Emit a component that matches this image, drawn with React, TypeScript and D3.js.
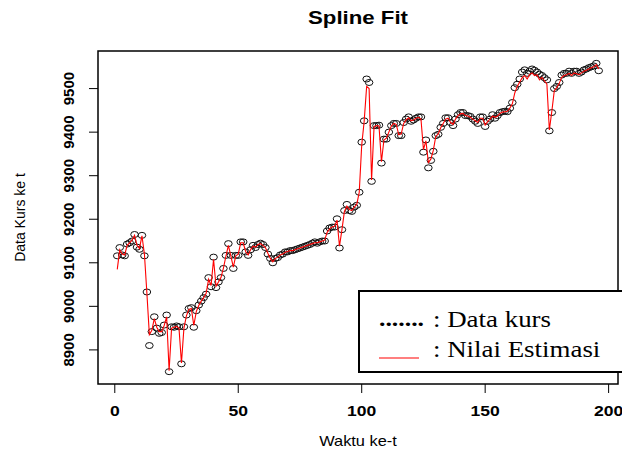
import React, { useRef, useEffect } from 'react';
import * as d3 from 'd3';

// observed exchange rate (Data kurs), t = 1..196
const kurs = [
  9116, 9135, 9118, 9116, 9143, 9146, 9150, 9165, 9136, 9131,
  9163, 9116, 9033, 8910, 8942, 8976, 8950, 8938, 8940, 8957,
  8980, 8850, 8953, 8952, 8955, 8953, 8868, 8953, 8980, 8995,
  8997, 8952, 8990, 9003, 9012, 9020, 9028, 9066, 9045, 9113,
  9043, 9056, 9066, 9087, 9117, 9144, 9117, 9087, 9117, 9117,
  9148, 9148, 9125, 9117, 9130, 9140, 9135, 9142, 9145, 9142,
  9135, 9120, 9110, 9100, 9110, 9112, 9118, 9120, 9125, 9125,
  9128, 9128, 9130, 9132, 9134, 9136, 9138, 9140, 9142, 9145,
  9148, 9145, 9148, 9150, 9150, 9173, 9180, 9182, 9182, 9201,
  9134, 9176, 9220, 9234, 9220, 9218, 9228, 9232, 9262, 9377,
  9426, 9522, 9514, 9287, 9415, 9415, 9416, 9329, 9384, 9384,
  9400, 9415, 9420, 9420, 9392, 9392, 9422, 9430, 9435, 9425,
  9428, 9432, 9435, 9435, 9354, 9382, 9318, 9335, 9356, 9392,
  9395, 9411, 9420, 9433, 9433, 9422, 9415, 9430, 9440, 9445,
  9445, 9438, 9438, 9436, 9430, 9425, 9420, 9435, 9435, 9413,
  9425, 9430, 9440, 9432, 9438, 9445, 9447, 9448, 9447, 9455,
  9468, 9502, 9510, 9522, 9538, 9543, 9535, 9540, 9545, 9542,
  9538, 9533, 9530, 9525, 9520, 9403, 9445, 9500, 9505, 9514,
  9531, 9535, 9535, 9540, 9535, 9540, 9540, 9535, 9538, 9543,
  9545, 9548, 9550, 9552, 9558, 9541,
];

// spline estimate (Nilai Estimasi), t = 1..196
const estimasi = [
  9085, 9130, 9120, 9118, 9140, 9146, 9152, 9163, 9140, 9133,
  9162, 9120, 9030, 8935, 8945, 8972, 8952, 8942, 8942, 8956,
  8976, 8852, 8950, 8952, 8954, 8950, 8870, 8950, 8978, 8993,
  8995, 8956, 8988, 9002, 9012, 9020, 9030, 9062, 9048, 9108,
  9046, 9056, 9066, 9088, 9115, 9140, 9116, 9090, 9116, 9120,
  9146, 9146, 9126, 9118, 9130, 9138, 9136, 9142, 9144, 9140,
  9135, 9122, 9110, 9102, 9110, 9113, 9118, 9120, 9124, 9126,
  9128, 9128, 9130, 9132, 9134, 9136, 9138, 9140, 9142, 9144,
  9146, 9146, 9148, 9150, 9152, 9170, 9178, 9182, 9184, 9198,
  9138, 9176, 9218, 9230, 9222, 9220, 9228, 9234, 9262, 9370,
  9425, 9505, 9500, 9290, 9412, 9415, 9414, 9332, 9382, 9386,
  9400, 9414, 9420, 9418, 9394, 9396, 9420, 9428, 9433, 9426,
  9428, 9432, 9434, 9430, 9360, 9380, 9330, 9338, 9358, 9390,
  9396, 9410, 9420, 9430, 9432, 9422, 9418, 9430, 9438, 9442,
  9443, 9438, 9437, 9434, 9430, 9426, 9422, 9432, 9432, 9416,
  9424, 9430, 9437, 9434, 9437, 9443, 9446, 9447, 9448, 9455,
  9465, 9490, 9505, 9515, 9525, 9530, 9522, 9532, 9536, 9530,
  9532, 9520, 9526, 9518, 9510, 9405, 9448, 9495, 9502, 9512,
  9526, 9530, 9532, 9535, 9530, 9536, 9534, 9532, 9536, 9540,
  9542, 9545, 9548, 9550, 9555, 9545,
];

const xTicks = [0, 50, 100, 150, 200];
const yTicks = [8900, 9000, 9100, 9200, 9300, 9400, 9500];
const legendLabels = [': Data kurs', ': Nilai Estimasi'];

const W = 622;
const H = 450;
const box = { left: 98, right: 618, top: 51, bottom: 384 };
// the source picture is stretched sideways a little
const SX = 1.17;

const SplineChart = () => {
  const svgRef = useRef(null);

  useEffect(() => {
    if (!svgRef.current) return;
    const root = d3.select(svgRef.current);
    root.selectAll('*').remove();

    const t = kurs.map((_, i) => i + 1);
    const all = kurs.concat(estimasi);

    // R style 4% padding on both axes
    const padX = (t.length - 1) * 0.04;
    const x = d3.scaleLinear()
      .domain([1 - padX, t.length + padX])
      .range([box.left, box.right]);
    const [lo, hi] = d3.extent(all);
    const padY = (hi - lo) * 0.04;
    const y = d3.scaleLinear()
      .domain([lo - padY, hi + padY])
      .range([box.bottom, box.top]);

    const sans = '"Liberation Sans", Arial, sans-serif';
    const serif = '"Liberation Serif", "Times New Roman", serif';

    const hText = (g, px, py, anchor) => g.append('text')
      .attr('transform', `translate(${px}, ${py}) scale(${SX}, 1)`)
      .attr('text-anchor', anchor);

    // title
    hText(root, (box.left + box.right) / 2, 24, 'middle')
      .attr('font-family', sans)
      .attr('font-weight', 'bold')
      .attr('font-size', 19)
      .text('Spline Fit');

    // points
    root.append('g')
      .selectAll('ellipse')
      .data(kurs)
      .enter()
      .append('ellipse')
      .attr('cx', (d, i) => x(i + 1))
      .attr('cy', d => y(d))
      .attr('rx', 3.8)
      .attr('ry', 3)
      .attr('fill', 'none')
      .attr('stroke', '#111')
      .attr('stroke-width', 1);

    // fitted line
    const line = d3.line()
      .x((d, i) => x(i + 1))
      .y(d => y(d));
    root.append('path')
      .datum(estimasi)
      .attr('d', line)
      .attr('fill', 'none')
      .attr('stroke', '#ff0000')
      .attr('stroke-width', 1.1);

    // plot box
    root.append('rect')
      .attr('x', box.left)
      .attr('y', box.top)
      .attr('width', box.right - box.left)
      .attr('height', box.bottom - box.top)
      .attr('fill', 'none')
      .attr('stroke', '#000')
      .attr('stroke-width', 1.5);

    // x axis
    const gx = root.append('g');
    xTicks.forEach(v => {
      gx.append('line')
        .attr('x1', x(v)).attr('x2', x(v))
        .attr('y1', box.bottom).attr('y2', box.bottom + 9)
        .attr('stroke', '#000').attr('stroke-width', 1);
      hText(gx, x(v), 416, 'middle')
        .attr('font-family', sans)
        .attr('font-weight', 'bold')
        .attr('font-size', 15)
        .text(v);
    });
    hText(root, (box.left + box.right) / 2, 446, 'middle')
      .attr('font-family', sans)
      .attr('font-size', 14)
      .text('Waktu ke-t');

    // y axis
    const gy = root.append('g');
    yTicks.forEach(v => {
      gy.append('line')
        .attr('x1', box.left - 9).attr('x2', box.left)
        .attr('y1', y(v)).attr('y2', y(v))
        .attr('stroke', '#000').attr('stroke-width', 1);
      gy.append('text')
        .attr('transform', `translate(74, ${y(v)}) rotate(-90)`)
        .attr('text-anchor', 'middle')
        .attr('font-family', sans)
        .attr('font-weight', 'bold')
        .attr('font-size', 15)
        .text(v);
    });
    root.append('text')
      .attr('transform', `translate(25, ${(box.top + box.bottom) / 2}) rotate(-90)`)
      .attr('text-anchor', 'middle')
      .attr('font-family', sans)
      .attr('font-size', 14)
      .text('Data Kurs ke t');

    // legend
    const lg = root.append('g');
    lg.append('rect')
      .attr('x', 359)
      .attr('y', 291)
      .attr('width', 300)
      .attr('height', 81)
      .attr('fill', '#fff')
      .attr('stroke', '#000')
      .attr('stroke-width', 2);
    hText(lg, 379, 326, 'start')
      .attr('font-family', serif)
      .attr('font-weight', 'bold')
      .attr('font-size', 22)
      .text('.......');
    lg.append('line')
      .attr('x1', 379).attr('x2', 419)
      .attr('y1', 358).attr('y2', 358)
      .attr('stroke', '#ff0000')
      .attr('stroke-width', 1.1);
    legendLabels.forEach((label, i) => {
      hText(lg, 433, 327 + i * 30, 'start')
        .attr('font-family', serif)
        .attr('font-size', 23)
        .text(label);
    });
  }, []);

  return (
    <svg
      ref={svgRef}
      width={W}
      height={H}
      style={{ position: 'absolute', left: 0, top: 0, background: '#fff' }}
    />
  );
};

export default function App() {
  return <SplineChart />;
}
